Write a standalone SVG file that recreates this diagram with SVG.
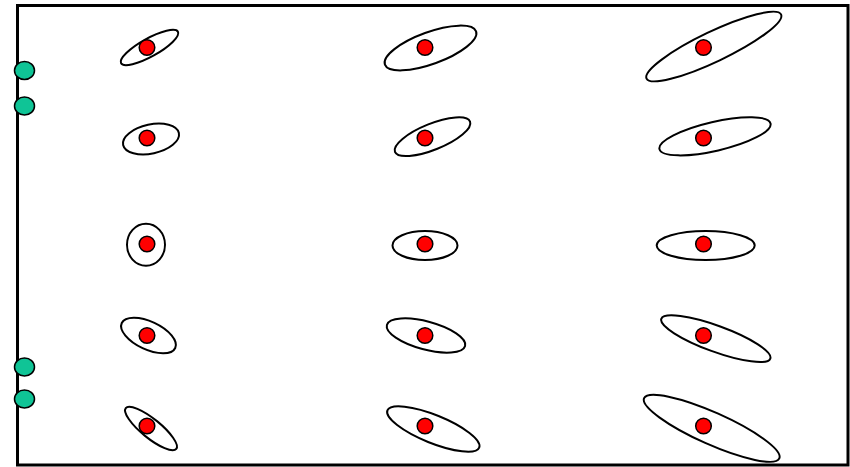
<svg xmlns="http://www.w3.org/2000/svg" width="850" height="467" viewBox="0 0 850 467">
<style>
.frame{fill:#fff;stroke:#000;stroke-width:3}
.ell{fill:none;stroke:#000;stroke-width:2}
.dot{fill:#ff0000;stroke:#000;stroke-width:1.5}
.sensor{fill:#0fc496;stroke:#000;stroke-width:1.5}
</style>
<rect class="frame" x="17.5" y="5.5" width="830.5" height="459.5"/>
<g id="connectors"/>
<g id="sensors">
<ellipse id="s1" class="sensor" cx="24.5" cy="70.5" rx="10" ry="9"/>
<ellipse id="s2" class="sensor" cx="24.5" cy="106" rx="10" ry="9"/>
<ellipse id="s3" class="sensor" cx="24.5" cy="367" rx="10" ry="9"/>
<ellipse id="s4" class="sensor" cx="24.5" cy="399" rx="10" ry="9"/>
</g>
<g id="n11"><ellipse class="ell" cx="149.5" cy="47.5" rx="32.5" ry="9" transform="rotate(-29 149.5 47.5)"/><circle class="dot" cx="147" cy="47.5" r="7.8"/></g>
<g id="n12"><ellipse class="ell" cx="151" cy="139" rx="28.5" ry="14.5" transform="rotate(-12 151 139)"/><circle class="dot" cx="147" cy="138" r="7.8"/></g>
<g id="n13"><ellipse class="ell" cx="146" cy="244.7" rx="19" ry="21"/><circle class="dot" cx="147" cy="244" r="7.8"/></g>
<g id="n14"><ellipse class="ell" cx="148.5" cy="335.5" rx="29.5" ry="14" transform="rotate(25 148.5 335.5)"/><circle class="dot" cx="147" cy="335.5" r="7.8"/></g>
<g id="n15"><ellipse class="ell" cx="151" cy="428.5" rx="32.5" ry="9.5" transform="rotate(39 151 428.5)"/><circle class="dot" cx="147" cy="426" r="7.8"/></g>
<g id="n21"><ellipse class="ell" cx="430.5" cy="48" rx="48.5" ry="16" transform="rotate(-20 430.5 48)"/><circle class="dot" cx="425" cy="47.5" r="7.8"/></g>
<g id="n22"><ellipse class="ell" cx="432.5" cy="136.7" rx="40.5" ry="13" transform="rotate(-22 432.5 136.7)"/><circle class="dot" cx="425" cy="138" r="7.8"/></g>
<g id="n23"><ellipse class="ell" cx="425" cy="245.5" rx="32.5" ry="14.5"/><circle class="dot" cx="425" cy="244" r="7.8"/></g>
<g id="n24"><ellipse class="ell" cx="426" cy="335.5" rx="40.5" ry="14" transform="rotate(15 426 335.5)"/><circle class="dot" cx="425" cy="335.5" r="7.8"/></g>
<g id="n25"><ellipse class="ell" cx="433.3" cy="429" rx="49.5" ry="14" transform="rotate(22 433.3 429)"/><circle class="dot" cx="425" cy="426" r="7.8"/></g>
<g id="n31"><ellipse class="ell" cx="713.8" cy="46.5" rx="74.5" ry="15" transform="rotate(-25.5 713.8 46.5)"/><circle class="dot" cx="703.5" cy="47.5" r="7.8"/></g>
<g id="n32"><ellipse class="ell" cx="715" cy="136.3" rx="57" ry="14.5" transform="rotate(-13 715 136.3)"/><circle class="dot" cx="703.5" cy="138" r="7.8"/></g>
<g id="n33"><ellipse class="ell" cx="705.7" cy="245.5" rx="49" ry="14.5"/><circle class="dot" cx="703.5" cy="244" r="7.8"/></g>
<g id="n34"><ellipse class="ell" cx="715.8" cy="338.7" rx="58" ry="13" transform="rotate(20 715.8 338.7)"/><circle class="dot" cx="703.5" cy="335.5" r="7.8"/></g>
<g id="n35"><ellipse class="ell" cx="711.7" cy="428.3" rx="74" ry="16" transform="rotate(24 711.7 428.3)"/><circle class="dot" cx="703.5" cy="426" r="7.8"/></g>
</svg>
